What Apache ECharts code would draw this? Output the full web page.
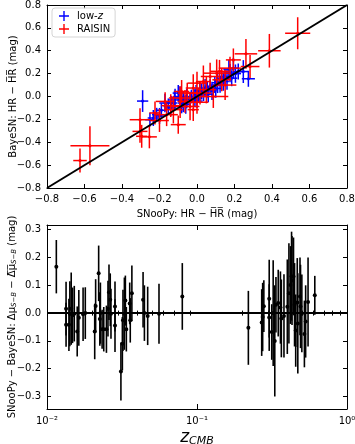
<!DOCTYPE html>
<html><head><meta charset="utf-8">
<script src="https://cdn.jsdelivr.net/npm/echarts@6/dist/echarts.min.js"></script>
<style>html,body{margin:0;padding:0;background:#fff}#c{width:355px;height:444px}</style>
</head><body><div id="c"></div>
<script>
// ---------- Top panel: HR comparison ----------
const lowzX    = [-0.29,-0.251,-0.233,-0.215,-0.2,-0.171,-0.153,-0.135,-0.117,-0.1,-0.091,-0.082,-0.073,-0.073,-0.055,-0.055,-0.037,-0.03,-0.011,-0.005,0.007,0.015,0.025,0.035,0.043,0.055,0.07,0.08,0.095,0.11,0.123,0.14,0.149,0.16,0.176,0.185,0.194,0.205,0.22,0.247,0.274,-0.14,-0.06,0.0,0.1,0.13,-0.19,-0.12,0.06,0.17];
const lowzY    = [-0.04,-0.203,-0.188,-0.159,-0.17,-0.057,-0.087,-0.057,-0.013,0.03,0.0,-0.087,-0.057,-0.028,-0.043,-0.013,-0.028,0.0,-0.013,0.03,0.015,0.05,0.044,0.02,0.074,0.06,0.09,0.05,0.1,0.12,0.103,0.131,0.175,0.15,0.204,0.16,0.248,0.2,0.218,0.218,0.155,-0.1,-0.07,-0.04,0.07,0.16,-0.12,-0.03,0.02,0.24];
const lowzXErr = [0.03,0.025,0.03,0.025,0.03,0.03,0.025,0.03,0.025,0.03,0.03,0.025,0.03,0.025,0.03,0.03,0.025,0.03,0.03,0.025,0.03,0.03,0.025,0.03,0.03,0.025,0.03,0.025,0.03,0.03,0.025,0.03,0.03,0.025,0.03,0.03,0.025,0.03,0.03,0.025,0.035,0.03,0.025,0.03,0.03,0.025,0.03,0.03,0.025,0.03];
const lowzYErr = [0.095,0.06,0.07,0.06,0.07,0.08,0.07,0.06,0.08,0.07,0.09,0.06,0.08,0.07,0.06,0.08,0.07,0.06,0.08,0.07,0.06,0.08,0.07,0.06,0.08,0.07,0.06,0.08,0.07,0.09,0.07,0.08,0.07,0.09,0.08,0.07,0.09,0.08,0.07,0.1,0.07,0.07,0.08,0.06,0.08,0.07,0.06,0.08,0.07,0.08];

const raisinX    = [-0.624,-0.571,-0.304,-0.304,-0.295,-0.254,-0.224,-0.17,-0.162,-0.126,-0.09,-0.082,-0.052,-0.09,-0.064,-0.037,-0.02,-0.02,0.0,0.016,0.034,0.07,0.087,0.105,0.132,0.176,0.194,0.261,0.283,0.386,0.537,-0.1,0.05,0.15,-0.2,0.12,0.0,-0.14];
const raisinY    = [-0.56,-0.43,-0.203,-0.305,-0.348,-0.353,-0.144,-0.043,-0.159,-0.115,-0.087,0.044,0.03,-0.013,-0.043,-0.087,-0.115,0.074,0.117,0.03,0.131,0.175,0.0,0.204,0.146,0.248,0.32,0.373,0.262,0.40,0.553,-0.246,0.06,0.1,-0.21,0.22,-0.05,-0.08];
const raisinXErr = [0.036,0.104,0.055,0.04,0.03,0.04,0.03,0.05,0.06,0.05,0.045,0.04,0.05,0.06,0.04,0.05,0.03,0.04,0.05,0.06,0.04,0.05,0.08,0.07,0.05,0.06,0.04,0.06,0.05,0.06,0.067,0.04,0.05,0.06,0.05,0.05,0.06,0.05];
const raisinYErr = [0.105,0.17,0.10,0.1,0.1,0.1,0.1,0.08,0.1,0.12,0.1,0.1,0.09,0.1,0.1,0.12,0.1,0.12,0.1,0.1,0.14,0.12,0.1,0.12,0.1,0.1,0.1,0.13,0.1,0.147,0.14,0.08,0.12,0.13,0.1,0.1,0.1,0.1];

const hrRange = [-0.8, 0.8];
const hrTickStep = 0.2;

// ---------- Bottom panel: residual vs redshift ----------
const zLow = [0.01154,0.0134,0.0134,0.014,0.0142,0.0145,0.0148,0.0152,0.0159,0.0163,0.0174,0.018,0.0208,0.0211,0.0221,0.0225,0.0227,0.0233,0.0239,0.0249,0.0255,0.0259,0.0264,0.0267,0.0284,0.0284,0.0311,0.0318,0.0321,0.0328,0.0333,0.0338,0.0356,0.0359,0.0368,0.0437,0.0446,0.0469,0.0558,0.0798];
const dLow = [0.167,0.016,-0.042,-0.042,-0.002,0.016,-0.008,-0.002,-0.066,-0.017,-0.004,0.0,-0.066,0.026,0.143,-0.021,0.0,-0.058,-0.058,-0.058,0.016,0.075,0.048,-0.002,0.024,-0.045,-0.21,-0.11,-0.026,-0.002,0.045,-0.058,0.035,-0.026,0.071,0.048,0.0,-0.010,-0.002,0.06];
const eLow = [0.096,0.097,0.079,0.094,0.117,0.13,0.1,0.1,0.09,0.1,0.096,0.093,0.1,0.096,0.1,0.096,0.11,0.07,0.08,0.085,0.1,0.1,0.095,0.09,0.09,0.095,0.104,0.096,0.11,0.13,0.09,0.08,0.075,0.08,0.1,0.1,0.1,0.105,0.108,0.12];

const zHi = [0.22,0.274,0.279,0.303,0.303,0.315,0.322,0.33,0.336,0.348,0.365,0.40,0.41,0.42,0.427,0.43,0.44,0.447,0.455,0.466,0.47,0.486,0.49,0.5,0.52,0.53,0.55,0.61,0.27,0.38,0.36];
const dHi = [-0.053,-0.014,0.025,0.052,-0.016,-0.068,0.0,-0.1,0.03,0.036,-0.019,0.023,0.071,0.101,0.133,0.117,0.132,0.03,-0.063,0.038,-0.037,0.06,0.024,-0.001,-0.075,-0.03,0.04,0.064,-0.034,-0.01,0.02];
const eHi = [0.133,0.123,0.093,0.14,0.12,0.1,0.19,0.2,0.1,0.12,0.14,0.17,0.18,0.14,0.16,0.16,0.14,0.15,0.13,0.16,0.18,0.14,0.15,0.14,0.12,0.13,0.16,0.07,0.12,0.15,0.13];

const zRange = [0.01, 1];
const zMajorTicks = [0.01, 0.1, 1];
const zMinorTicks = [0.02,0.03,0.04,0.05,0.06,0.07,0.08,0.09,0.2,0.3,0.4,0.5,0.6,0.7,0.8,0.9];
const residRange = [-0.345, 0.317];
const residTicks = [-0.3,-0.2,-0.1,0.0,0.1,0.2,0.3];

// ---------- chart ----------
const FONT = 'DejaVu Sans';
const chart = echarts.init(document.getElementById('c'), null, {renderer:'canvas'});
function fmt(v){ if (Math.abs(v) < 1e-9) v = 0; return v.toFixed(1).replace('-', '\u2212'); }
const supMap = {'-':'\u207B','0':'\u2070','1':'\u00B9','2':'\u00B2'};
function logFmt(v){ const e = Math.round(Math.log10(v)); return '10' + String(e).split('').map(c=>supMap[c]).join(''); }

function errXY(color){
  return function(params, api){
    const x=api.value(0), y=api.value(1), ex=api.value(2), ey=api.value(3);
    const c=api.coord([x,y]), l=api.coord([x-ex,y]), r=api.coord([x+ex,y]), t=api.coord([x,y+ey]), b=api.coord([x,y-ey]);
    return {type:'group', children:[
      {type:'line', shape:{x1:l[0],y1:l[1],x2:r[0],y2:r[1]}, style:{stroke:color,lineWidth:1.5}},
      {type:'line', shape:{x1:t[0],y1:t[1],x2:b[0],y2:b[1]}, style:{stroke:color,lineWidth:1.5}},
      {type:'circle', shape:{cx:c[0],cy:c[1],r:1.5}, style:{fill:color}}
    ]};
  };
}
function errY(color){
  return function(params, api){
    const x=api.value(0), y=api.value(1), e=api.value(2);
    const c=api.coord([x,y]), t=api.coord([x,y+e]), b=api.coord([x,y-e]);
    return {type:'group', children:[
      {type:'line', shape:{x1:t[0],y1:t[1],x2:b[0],y2:b[1]}, style:{stroke:color,lineWidth:1.6}},
      {type:'circle', shape:{cx:c[0],cy:c[1],r:2}, style:{fill:color}}
    ]};
  };
}

const txt = {fontFamily:FONT, fontSize:10, color:'#000'};
const axLine = {show:true, onZero:false, lineStyle:{color:'#000', width:1}};
const tickIn = {show:true, inside:true, length:4, lineStyle:{color:'#000', width:1}};
const PLUS = 'path://M4.3,0L5.7,0L5.7,4.3L10,4.3L10,5.7L5.7,5.7L5.7,10L4.3,10L4.3,5.7L0,5.7L0,4.3L4.3,4.3Z';

const option = {
  animation:false,
  backgroundColor:'#fff',
  grid:[
    {left:47, top:5, width:300, height:183, outerBoundsMode:'none', containLabel:false},
    {left:47, top:225, width:300, height:184, outerBoundsMode:'none', containLabel:false}
  ],
  legend:{
    left:52, top:8, orient:'vertical', itemWidth:16, itemHeight:10, itemGap:3,
    padding:[3,5,3,7], borderColor:'#d5d5d5', borderWidth:1, borderRadius:3,
    backgroundColor:'rgba(255,255,255,0.85)',
    data:[{name:'low-z', icon:PLUS},{name:'RAISIN', icon:PLUS}],
    formatter: n => n === 'low-z' ? 'low-{i|z}' : n,
    textStyle:{fontFamily:FONT, fontSize:10, color:'#000', rich:{i:{fontFamily:FONT, fontSize:10, fontStyle:'italic', color:'#000'}}}
  },
  xAxis:[
    {type:'value', gridIndex:0, min:hrRange[0], max:hrRange[1], interval:hrTickStep, position:'bottom',
     axisLine:axLine, axisTick:tickIn, splitLine:{show:false},
     axisLabel:Object.assign({formatter:fmt, margin:6}, txt),
     name:'SNooPy: HR \u2212 H\u0305R\u0305 (mag)', nameLocation:'middle', nameGap:21, nameMoveOverlap:false, nameTextStyle:txt},
    {type:'value', gridIndex:0, min:hrRange[0], max:hrRange[1], interval:hrTickStep, position:'top',
     axisLine:axLine, axisTick:tickIn, splitLine:{show:false}, axisLabel:{show:false}},
    {type:'log', logBase:10, gridIndex:1, min:zRange[0], max:zRange[1], position:'bottom',
     axisLine:axLine, axisTick:Object.assign({}, tickIn, {length:5, customValues:zMajorTicks}), splitLine:{show:false},
     axisLabel:Object.assign({formatter:logFmt, margin:7, customValues:zMajorTicks}, txt),
     name:'z{s|CMB}', nameLocation:'middle', nameGap:19, nameMoveOverlap:false,
     nameTextStyle:{fontFamily:FONT, fontSize:17, fontStyle:'italic', color:'#000', verticalAlign:'top',
       rich:{s:{fontFamily:FONT, fontSize:11, fontStyle:'italic', color:'#000', verticalAlign:'bottom', padding:[8,0,0,0]}}}},
    {type:'log', logBase:10, gridIndex:1, min:zRange[0], max:zRange[1], position:'bottom',
     axisLine:{show:false}, axisTick:Object.assign({}, tickIn, {length:2.5, customValues:zMinorTicks}), splitLine:{show:false}, axisLabel:{show:false}},
    {type:'log', logBase:10, gridIndex:1, min:zRange[0], max:zRange[1], position:'top',
     axisLine:axLine, axisTick:Object.assign({}, tickIn, {length:5, customValues:zMajorTicks}), splitLine:{show:false}, axisLabel:{show:false}},
    {type:'log', logBase:10, gridIndex:1, min:zRange[0], max:zRange[1], position:'top',
     axisLine:{show:false}, axisTick:Object.assign({}, tickIn, {length:2.5, customValues:zMinorTicks}), splitLine:{show:false}, axisLabel:{show:false}}
  ],
  yAxis:[
    {type:'value', gridIndex:0, min:hrRange[0], max:hrRange[1], interval:hrTickStep, position:'left',
     axisLine:axLine, axisTick:tickIn, splitLine:{show:false},
     axisLabel:Object.assign({formatter:fmt, margin:6}, txt),
     name:'BayeSN: HR \u2212 H\u0305R\u0305 (mag)', nameLocation:'middle', nameGap:29, nameMoveOverlap:false, nameTextStyle:txt},
    {type:'value', gridIndex:0, min:hrRange[0], max:hrRange[1], interval:hrTickStep, position:'right',
     axisLine:axLine, axisTick:tickIn, splitLine:{show:false}, axisLabel:{show:false}},
    {type:'value', gridIndex:1, min:residRange[0], max:residRange[1], position:'left',
     axisLine:axLine, axisTick:Object.assign({}, tickIn, {customValues:residTicks}), splitLine:{show:false},
     axisLabel:Object.assign({formatter:fmt, margin:6, customValues:residTicks}, txt),
     name:'SNooPy \u2212 BayeSN: \u0394\u03BC{s|S\u2212B} \u2212 \u0394\u0305\u03BC\u0305{s|S\u2212B} (mag)', nameLocation:'middle', nameGap:29, nameMoveOverlap:false,
     nameTextStyle:Object.assign({rich:{s:{fontFamily:FONT, fontSize:7, fontStyle:'italic', color:'#000', verticalAlign:'bottom', padding:[4,0,0,0]}}}, txt)},
    {type:'value', gridIndex:1, min:residRange[0], max:residRange[1], position:'right',
     axisLine:axLine, axisTick:Object.assign({}, tickIn, {customValues:residTicks}), splitLine:{show:false}, axisLabel:{show:false}}
  ],
  series:[
    {type:'custom', name:'low-z', xAxisIndex:0, yAxisIndex:0, clip:true, z:2,
     itemStyle:{color:'#0000ff'}, renderItem:errXY('#0000ff'), encode:{x:0, y:1},
     data: lowzX.map((x,i)=>[x, lowzY[i], lowzXErr[i], lowzYErr[i]])},
    {type:'custom', name:'RAISIN', xAxisIndex:0, yAxisIndex:0, clip:true, z:3,
     itemStyle:{color:'#ff0000'}, renderItem:errXY('#ff0000'), encode:{x:0, y:1},
     data: raisinX.map((x,i)=>[x, raisinY[i], raisinXErr[i], raisinYErr[i]])},
    {type:'line', xAxisIndex:0, yAxisIndex:0, z:4, symbol:'none', silent:true,
     lineStyle:{color:'#000', width:2}, data: hrRange.map(v=>[v, v])},
    {type:'custom', xAxisIndex:2, yAxisIndex:2, clip:true, z:2,
     renderItem:errY('#000'), encode:{x:0, y:1},
     data: zLow.map((z,i)=>[z, dLow[i], eLow[i]])},
    {type:'custom', xAxisIndex:2, yAxisIndex:2, clip:true, z:2,
     renderItem:errY('#000'), encode:{x:0, y:1},
     data: zHi.map((z,i)=>[z, dHi[i], eHi[i]])},
    {type:'line', xAxisIndex:2, yAxisIndex:2, z:4, symbol:'none', silent:true,
     lineStyle:{color:'#000', width:2}, data: zRange.map(z=>[z, 0])}
  ]
};
chart.setOption(option);
</script>
</body></html>
